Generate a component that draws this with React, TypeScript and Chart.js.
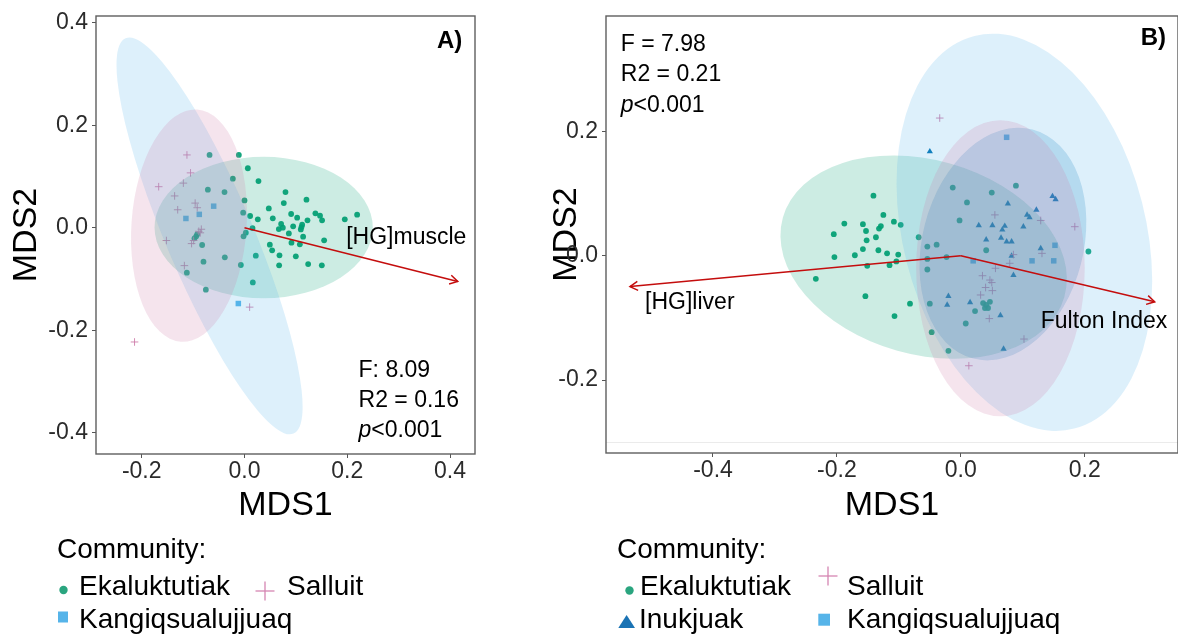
import React, { useEffect, useRef } from "react";
import { Chart, registerables } from "chart.js";
Chart.register(...registerables);

const FONT = '"Liberation Sans", Arial, Helvetica, sans-serif';

// ---------------- Panel A data ----------------
const aEkaluktutiak: number[][] = [
  [-0.068, 0.142], [-0.011, 0.142], [0.0065, 0.116], [-0.0227, 0.0956], [0.0272, 0.091],
  [-0.0713, 0.0741], [-0.0389, 0.0696], [0.0798, 0.0696], [0.0765, 0.0481], [0.1206, 0.0546],
  [0.0, 0.0533], [0.0473, 0.0377], [0.0908, 0.0267], [-0.0026, 0.0293], [0.011, 0.0228],
  [0.0551, 0.0182], [0.0259, 0.0163], [0.1025, 0.0195], [0.138, 0.028], [0.147, 0.0234],
  [0.151, 0.0143], [0.1226, 0.0143], [0.1952, 0.0163], [0.2192, 0.0254], [0.0713, 0.0072],
  [0.0668, -0.0026], [0.0746, 0.0], [0.0947, 0.0026], [0.1109, 0.0013], [0.1122, 0.0059],
  [0.1096, -0.0033], [0.0156, -0.0007], [0.0863, -0.0111], [0.1141, -0.0176], [0.155, -0.0247],
  [0.0026, -0.0098], [-0.0019, -0.0169], [-0.094, -0.0169], [-0.0973, -0.0208], [-0.0921, -0.013],
  [-0.0824, -0.0338], [0.0493, -0.0332], [0.0538, -0.0442], [0.0914, -0.0293], [0.1077, -0.0325],
  [0.022, -0.0546], [-0.0383, -0.0579], [-0.0798, -0.0663], [-0.0071, -0.0728], [0.0681, -0.054],
  [0.0999, -0.0559], [0.0674, -0.0735], [0.1239, -0.0709], [0.1505, -0.0735], [-0.1122, -0.0878],
  [0.0162, -0.1067], [-0.0752, -0.121],
];
const aSalluit: number[][] = [
  [-0.112, 0.142], [-0.105, 0.107], [-0.167, 0.08], [-0.119, 0.087], [-0.136, 0.062],
  [-0.096, 0.048], [-0.092, 0.039], [-0.13, 0.035], [-0.084, -0.003], [-0.089, -0.007],
  [-0.086, -0.01], [-0.152, -0.025], [-0.103, -0.031], [-0.099, -0.025], [-0.117, -0.074],
  [0.01, -0.155], [-0.214, -0.223],
];
const aKangiqsualujjuaq: number[][] = [
  [-0.06, 0.042], [-0.088, 0.026], [-0.114, 0.018], [-0.012, -0.148],
];
const aXRange = [-0.289, 0.4486];
const aYRange = [-0.4416, 0.4131];
const aXTicks = [-0.2, 0, 0.2, 0.4];
const aXTickLabels = ["-0.2", "0.0", "0.2", "0.4"];
const aYTicks = [-0.4, -0.2, 0, 0.2, 0.4];
const aYTickLabels = ["-0.4", "-0.2", "0.0", "0.2", "0.4"];
// ellipse: centre x, centre y, semi-major, semi-minor, major-axis angle (deg, clockwise on screen)
const aEllEkaluktutiak = [0.0373, 0.0003, 0.2124, 0.1376, 0];
const aEllKangiqsualujjuaq = [-0.068, -0.016, 0.418, 0.085, 67];
const aEllSalluit = [-0.108, 0.004, 0.2265, 0.112, 94];
const aArrowMuscle = [0.415, -0.105];
const aStats = ["F: 8.09", "R2 = 0.16", "<0.001"];

// ---------------- Panel B data ----------------
const bEkaluktutiak: number[][] = [
  [-0.141, 0.097], [-0.125, 0.066], [-0.188, 0.052], [-0.158, 0.051], [-0.129, 0.048],
  [-0.132, 0.044], [-0.205, 0.035], [-0.153, 0.04], [-0.137, 0.03], [-0.152, 0.025],
  [-0.158, 0.011], [-0.133, 0.009], [-0.119, 0.004], [-0.204, -0.002], [-0.171, 0.001],
  [-0.151, -0.016], [-0.234, -0.037], [-0.154, -0.065], [-0.108, 0.055], [-0.097, 0.05],
  [-0.101, 0.002], [-0.104, -0.009], [-0.115, -0.015], [-0.107, -0.097], [-0.082, -0.077],
  [-0.068, 0.03], [-0.054, 0.015], [-0.039, 0.018], [-0.054, -0.005], [-0.054, -0.022],
  [-0.023, -0.002], [-0.05, -0.077], [-0.047, -0.123], [-0.02, -0.153], [-0.013, 0.11],
  [0.01, 0.086], [0.05, 0.102], [0.089, 0.113], [-0.002, 0.057], [0.041, 0.009],
  [0.023, -0.089], [0.008, -0.109], [0.036, -0.076], [0.041, -0.079], [0.047, -0.074],
  [0.039, -0.084], [0.044, -0.084], [0.206, 0.007],
];
const bInukjuak: number[][] = [
  [-0.05, 0.168], [0.076, 0.084], [0.148, 0.096], [0.153, 0.091], [0.122, 0.074],
  [0.107, 0.066], [0.111, 0.062], [0.029, 0.049], [0.051, 0.049], [0.071, 0.048],
  [0.067, 0.042], [0.101, 0.047], [0.041, 0.026], [0.065, 0.029], [0.074, 0.023],
  [0.082, 0.023], [0.129, 0.012], [0.082, 0.0], [0.085, -0.031], [-0.02, -0.065],
  [-0.022, -0.079], [0.015, -0.075], [0.064, -0.096], [0.069, -0.15],
];
const bSalluit: number[][] = [
  [-0.034, 0.222], [0.055, 0.066], [0.129, 0.057], [0.184, 0.047], [0.085, 0.002],
  [0.131, 0.004], [0.079, -0.012], [0.056, -0.02], [0.035, -0.032], [0.047, -0.039],
  [0.05, -0.043], [0.04, -0.051], [0.051, -0.056], [0.032, -0.063], [0.046, -0.101],
  [0.102, -0.134], [0.013, -0.177],
];
const bKangiqsualujjuaq: number[][] = [
  [0.074, 0.191], [0.152, 0.017], [0.115, -0.008], [0.15, -0.008], [0.02, -0.008],
];
const bXRange = [-0.5727, 0.3506];
const bYRange = [-0.3176, 0.3864];
const bXTicks = [-0.4, -0.2, 0, 0.2];
const bXTickLabels = ["-0.4", "-0.2", "0.0", "0.2"];
const bYTicks = [-0.2, 0, 0.2];
const bYTickLabels = ["-0.2", "0.0", "0.2"];
const bEllEkaluktutiak = [-0.06, -0.002, 0.236, 0.157, 15.7];
const bEllInukjuak = [0.068, 0.019, 0.191, 0.13, 104.5];
const bEllKangiqsualujjuaq = [0.1026, 0.038, 0.327, 0.196, 75.75];
const bEllSalluit = [0.064, -0.02, 0.239, 0.136, 90];
const bArrowLiver = [-0.534, -0.0495];
const bArrowFulton = [0.313, -0.074];
const bRefLine = [-0.3];
const bStats = ["F = 7.98", "R2 = 0.21", "<0.001"];

// ---------------- legend ----------------
const legendTitle = "Community:";
const legendA = ["Ekaluktutiak", "Salluit", "Kangiqsualujjuaq"];
const legendB = ["Ekaluktutiak", "Salluit", "Inukjuak", "Kangiqsualujjuaq"];

// colours
const C_EKA = "#009E73";
const C_INU = "#0072B2";
const C_KAN = "#56B4E9";
const C_SAL = "#CC79A7";
const ellFill = (hex: string) => {
  const n = parseInt(hex.slice(1), 16);
  return `rgba(${(n >> 16) & 255},${(n >> 8) & 255},${n & 255},0.2)`;
};
const ARROW = "#c40d0d";

const decoPlugin = {
  id: "deco",
  beforeDatasetsDraw(chart: any, _a: any, opts: any) {
    const { ctx, chartArea: ca, scales } = chart;
    const y = scales.y;
    (opts.hlines || []).forEach((v: number) => {
      const py = Math.round(y.getPixelForValue(v)) + 0.5;
      ctx.save();
      ctx.strokeStyle = "#ebebeb";
      ctx.lineWidth = 1;
      ctx.beginPath();
      ctx.moveTo(ca.left, py);
      ctx.lineTo(ca.right, py);
      ctx.stroke();
      ctx.restore();
    });
  },
  afterDatasetsDraw(chart: any, _a: any, opts: any) {
    const { ctx, chartArea: ca, scales } = chart;
    const x = scales.x;
    const y = scales.y;
    const k = Math.abs(x.getPixelForValue(1) - x.getPixelForValue(0));
    ctx.save();
    ctx.beginPath();
    ctx.rect(ca.left, ca.top, ca.right - ca.left, ca.bottom - ca.top);
    ctx.clip();
    (opts.ellipses || []).forEach((e: any) => {
      const [cx, cy, a, b, ang] = e.p;
      ctx.beginPath();
      ctx.ellipse(x.getPixelForValue(cx), y.getPixelForValue(cy), a * k, b * k, (ang * Math.PI) / 180, 0, Math.PI * 2);
      ctx.fillStyle = ellFill(e.color);
      ctx.fill();
    });
    (opts.arrows || []).forEach((ar: number[]) => {
      const x0 = x.getPixelForValue(0);
      const y0 = y.getPixelForValue(0);
      const x1 = x.getPixelForValue(ar[0]);
      const y1 = y.getPixelForValue(ar[1]);
      ctx.strokeStyle = ARROW;
      ctx.lineWidth = 1.5;
      ctx.beginPath();
      ctx.moveTo(x0, y0);
      ctx.lineTo(x1, y1);
      ctx.stroke();
      const th = Math.atan2(y1 - y0, x1 - x0);
      const L = 9;
      ctx.beginPath();
      ctx.moveTo(x1 - L * Math.cos(th - Math.PI / 6), y1 - L * Math.sin(th - Math.PI / 6));
      ctx.lineTo(x1, y1);
      ctx.lineTo(x1 - L * Math.cos(th + Math.PI / 6), y1 - L * Math.sin(th + Math.PI / 6));
      ctx.stroke();
    });
    ctx.restore();

    ctx.save();
    ctx.textBaseline = "middle";
    (opts.texts || []).forEach((t: any) => {
      const size = t.size || 23;
      const fontOf = (p: any) => `${p.italic ? "italic " : ""}${p.bold ? "bold " : ""}${size}px ${FONT}`;
      let total = 0;
      t.parts.forEach((p: any) => {
        ctx.font = fontOf(p);
        total += ctx.measureText(p.t).width;
      });
      let px = x.getPixelForValue(t.x);
      if (t.align === "right") px -= total;
      const py = y.getPixelForValue(t.y);
      ctx.textAlign = "left";
      ctx.fillStyle = "#000";
      t.parts.forEach((p: any) => {
        ctx.font = fontOf(p);
        ctx.fillText(p.t, px, py);
        px += ctx.measureText(p.t).width;
      });
    });
    ctx.restore();

    ctx.save();
    ctx.strokeStyle = "#5e5e5e";
    ctx.lineWidth = 1.4;
    ctx.strokeRect(ca.left, ca.top, ca.right - ca.left, ca.bottom - ca.top);
    ctx.restore();
  },
};

const xy = (arr: number[][]) => arr.map(([x, y]) => ({ x, y }));

function ds(label: string, data: number[][], style: string, color: string, radius: number) {
  const isCross = style === "cross";
  return {
    label,
    data: xy(data),
    pointStyle: style,
    pointRadius: radius,
    pointHoverRadius: radius,
    backgroundColor: isCross ? "rgba(0,0,0,0)" : color,
    borderColor: color,
    borderWidth: isCross ? 1 : 0,
    showLine: false,
  };
}

function makeConfig(p: any) {
  const tickFont = { size: 23, family: FONT, lineHeight: 1 };
  return {
    type: "scatter",
    data: { datasets: p.datasets },
    options: {
      animation: false,
      responsive: false,
      devicePixelRatio: 1,
      events: [],
      layout: { autoPadding: false, padding: { left: 0, right: p.padRight, top: 16, bottom: 0 } },
      plugins: { legend: { display: false }, tooltip: { enabled: false }, deco: p.deco },
      scales: {
        x: {
          type: "linear",
          min: p.xRange[0],
          max: p.xRange[1],
          afterBuildTicks: (s: any) => {
            s.ticks = p.xTicks.map((v: number) => ({ value: v }));
          },
          afterFit: (s: any) => {
            s.height = p.xAxisH;
          },
          ticks: {
            callback: (_v: any, i: number) => p.xTickLabels[i],
            font: tickFont,
            color: "#2b2b2b",
            padding: 2,
            maxRotation: 0,
            autoSkip: false,
          },
          grid: { drawOnChartArea: false, drawTicks: true, tickLength: 4, color: "#555", lineWidth: 1 },
          border: { display: false },
          title: { display: true, text: "MDS1", color: "#000", font: { size: 34, family: FONT }, padding: { top: 0, bottom: 4 } },
        },
        y: {
          type: "linear",
          min: p.yRange[0],
          max: p.yRange[1],
          afterBuildTicks: (s: any) => {
            s.ticks = p.yTicks.map((v: number) => ({ value: v }));
          },
          afterFit: (s: any) => {
            s.width = p.yAxisW;
          },
          ticks: {
            callback: (_v: any, i: number) => p.yTickLabels[i],
            font: tickFont,
            color: "#2b2b2b",
            padding: 4,
            autoSkip: false,
          },
          grid: { drawOnChartArea: false, drawTicks: true, tickLength: 4, color: "#555", lineWidth: 1 },
          border: { display: false },
          title: { display: true, text: "MDS2", color: "#000", font: { size: 34, family: FONT }, padding: { top: 6.5, bottom: 0 } },
        },
      },
    },
    plugins: [decoPlugin],
  };
}

const statParts = (s: string[]) => [
  [{ t: s[0] }],
  [{ t: s[1] }],
  [{ t: "p", italic: true }, { t: s[2] }],
];

const configA = () => {
  const st = statParts(aStats);
  return makeConfig({
    padRight: 15,
    xAxisH: 76,
    yAxisW: 96,
    xRange: aXRange,
    yRange: aYRange,
    xTicks: aXTicks,
    xTickLabels: aXTickLabels,
    yTicks: aYTicks,
    yTickLabels: aYTickLabels,
    datasets: [
      ds("Salluit", aSalluit, "cross", "rgba(204,121,167,0.85)", 3.8),
      ds("Kangiqsualujjuaq", aKangiqsualujjuaq, "rect", C_KAN, 3.9),
      ds("Ekaluktutiak", aEkaluktutiak, "circle", "rgba(0,158,115,0.92)", 2.9),
    ],
    deco: {
      ellipses: [
        { p: aEllEkaluktutiak, color: C_EKA },
        { p: aEllKangiqsualujjuaq, color: C_KAN },
        { p: aEllSalluit, color: C_SAL },
      ],
      arrows: [aArrowMuscle],
      texts: [
        { parts: [{ t: "[HG]muscle" }], x: 0.198, y: -0.019 },
        { parts: st[0], x: 0.222, y: -0.278 },
        { parts: st[1], x: 0.222, y: -0.337 },
        { parts: st[2], x: 0.222, y: -0.396 },
        { parts: [{ t: "A)", bold: true }], x: 0.424, y: 0.3635, align: "right", size: 24 },
      ],
    },
  });
};

const configB = () => {
  const st = statParts(bStats);
  return makeConfig({
    padRight: 0,
    xAxisH: 77,
    yAxisW: 66,
    xRange: bXRange,
    yRange: bYRange,
    xTicks: bXTicks,
    xTickLabels: bXTickLabels,
    yTicks: bYTicks,
    yTickLabels: bYTickLabels,
    datasets: [
      ds("Salluit", bSalluit, "cross", "rgba(204,121,167,0.85)", 3.8),
      ds("Kangiqsualujjuaq", bKangiqsualujjuaq, "rect", C_KAN, 3.9),
      ds("Inukjuak", bInukjuak, "triangle", C_INU, 3.6),
      ds("Ekaluktutiak", bEkaluktutiak, "circle", "rgba(0,158,115,0.92)", 2.9),
    ],
    deco: {
      hlines: bRefLine,
      ellipses: [
        { p: bEllEkaluktutiak, color: C_EKA },
        { p: bEllInukjuak, color: C_INU },
        { p: bEllKangiqsualujjuaq, color: C_KAN },
        { p: bEllSalluit, color: C_SAL },
      ],
      arrows: [bArrowLiver, bArrowFulton],
      texts: [
        { parts: [{ t: "[HG]liver" }], x: -0.5096, y: -0.075 },
        { parts: [{ t: "Fulton Index" }], x: 0.129, y: -0.106 },
        { parts: st[0], x: -0.5488, y: 0.3403 },
        { parts: st[1], x: -0.5488, y: 0.2919 },
        { parts: st[2], x: -0.5488, y: 0.2423 },
        { parts: [{ t: "B)", bold: true }], x: 0.3314, y: 0.35, align: "right", size: 24 },
      ],
    },
  });
};

function Panel({ make, left, width, height }: { make: () => any; left: number; width: number; height: number }) {
  const ref = useRef<HTMLCanvasElement>(null);
  useEffect(() => {
    const chart = new Chart(ref.current as HTMLCanvasElement, make());
    return () => chart.destroy();
  }, []);
  return (
    <canvas
      ref={ref}
      width={width}
      height={height}
      style={{ position: "absolute", left, top: 0, width, height }}
    />
  );
}

const txtStyle = (left: number, top: number): React.CSSProperties => ({
  position: "absolute",
  left,
  top,
  fontFamily: FONT,
  fontSize: 28,
  lineHeight: "28px",
  color: "#000",
  whiteSpace: "nowrap",
});

export default function App() {
  return (
    <div style={{ position: "absolute", left: 0, top: 0, width: 1178, height: 642, background: "#fff", overflow: "hidden" }}>
      <Panel make={configA} left={0} width={490} height={530} />
      <Panel make={configB} left={540} width={638} height={530} />
      <svg style={{ position: "absolute", left: 0, top: 0 }} width={1178} height={642}>
        <circle cx={63.5} cy={590} r={4.2} fill="#2aa57f" />
        <line x1={255.5} y1={591} x2={274.5} y2={591} stroke="#d585b2" strokeWidth={1.3} />
        <line x1={265} y1={581.5} x2={265} y2={600.5} stroke="#d585b2" strokeWidth={1.3} />
        <rect x={58} y={611.5} width={10} height={11} fill={C_KAN} />
        <circle cx={629.5} cy={590.5} r={4.2} fill="#2aa57f" />
        <line x1={818.5} y1={576} x2={837.5} y2={576} stroke="#d585b2" strokeWidth={1.3} />
        <line x1={828} y1={566.5} x2={828} y2={585.5} stroke="#d585b2" strokeWidth={1.3} />
        <polygon points="618.3,628 635,628 626.6,615" fill="#1a73b4" />
        <rect x={818.3} y={613.7} width={11.7} height={12} fill={C_KAN} />
      </svg>
      <div style={txtStyle(57, 535)}>{legendTitle}</div>
      <div style={txtStyle(79, 572)}>{legendA[0]}</div>
      <div style={txtStyle(287, 572)}>{legendA[1]}</div>
      <div style={txtStyle(79, 605)}>{legendA[2]}</div>
      <div style={txtStyle(617, 535)}>{legendTitle}</div>
      <div style={txtStyle(640, 572)}>{legendB[0]}</div>
      <div style={txtStyle(847, 572)}>{legendB[1]}</div>
      <div style={txtStyle(639, 605)}>{legendB[2]}</div>
      <div style={txtStyle(847, 605)}>{legendB[3]}</div>
    </div>
  );
}
